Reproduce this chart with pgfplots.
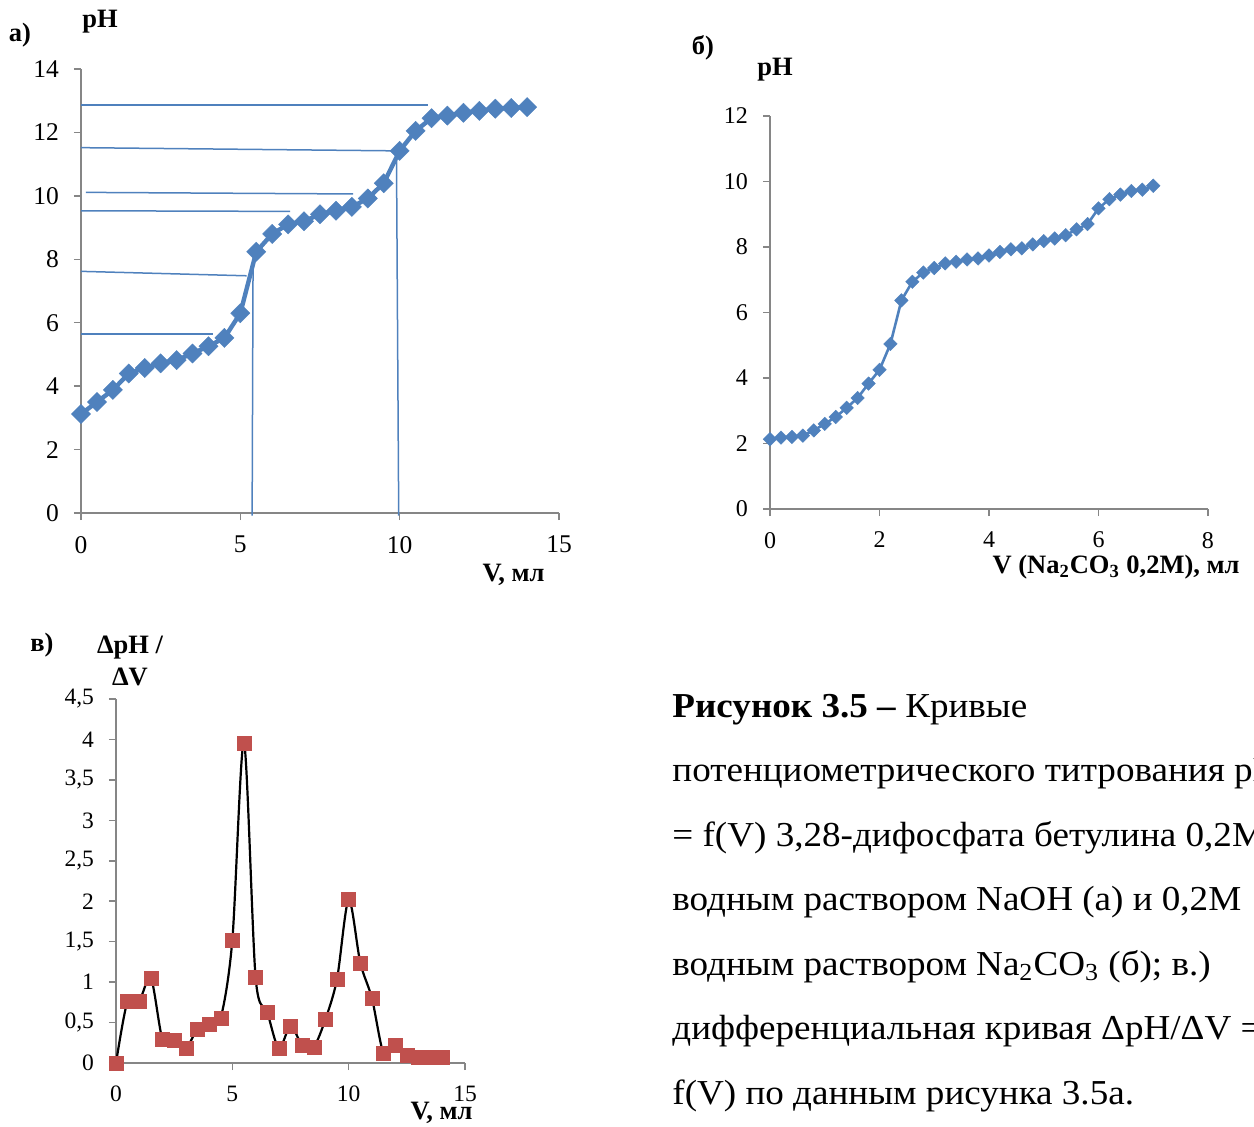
\documentclass[border=0pt]{standalone}
\usepackage{fontspec}
\setmainfont{Liberation Serif}
\usepackage{pgfplots}
\pgfplotsset{compat=1.18}
\definecolor{xblue}{HTML}{4F81BD}
\definecolor{xred}{HTML}{C0504D}
\definecolor{xgray}{HTML}{868686}
\pgfplotsset{
 xlstyle/.style={
  scale only axis, clip=false,
  axis x line*=bottom, axis y line*=left,
  axis line style={xgray, line width=0.75pt, -},
  tick style={xgray, line width=0.75pt},
  tick align=outside, major tick length=3.5pt,
  minor tick num=0,
  /pgf/number format/assume math mode=true,
  anchor=south west,
  yticklabel style={xshift=-4pt},
  xticklabel style={yshift=-4.5pt},
 }
}
\begin{document}
\begin{tikzpicture}
\useasboundingbox (0,0) rectangle (627pt,-563pt);
% ---------- a ----------
\begin{axis}[xlstyle, at={(40.5pt,-256.5pt)}, width=239pt, height=222pt,
  xmin=0, xmax=15, ymin=0, ymax=14, xtick={0,5,10,15}, ytick={0,2,...,14},
  ticklabel style={font=\fontsize{12.75}{14}\selectfont}]
\addplot[xblue, line width=2.2pt, mark=square*, mark size=3.4pt,
  mark options={rotate=45, fill=xblue, draw=xblue, line width=0.2pt}] coordinates {
(0,3.12) (0.5,3.5) (1,3.88) (1.5,4.4) (2,4.57) (2.5,4.72) (3,4.82) (3.5,5.03)
(4,5.26) (4.5,5.52) (5,6.3) (5.5,8.24) (6,8.8) (6.5,9.1) (7,9.2) (7.5,9.42)
(8,9.53) (8.5,9.65) (9,9.92) (9.5,10.4) (10,11.42) (10.5,12.05) (11,12.45)
(11.5,12.53) (12,12.62) (12.5,12.68) (13,12.75) (13.5,12.77) (14,12.8)};
\addplot[xblue, line width=0.75pt] coordinates {(0,12.86) (10.88,12.86)};
\addplot[xblue, line width=0.75pt] coordinates {(0,11.52) (9.81,11.42)};
\addplot[xblue, line width=0.75pt] coordinates {(0.15,10.11) (8.54,10.06)};
\addplot[xblue, line width=0.75pt] coordinates {(0,9.53) (6.56,9.51)};
\addplot[xblue, line width=0.75pt] coordinates {(0,7.62) (5.2,7.48)};
\addplot[xblue, line width=0.75pt] coordinates {(0,5.65) (4.13,5.65)};
\addplot[xblue, line width=0.75pt] coordinates {(5.4,8.0) (5.37,-0.08)};
\addplot[xblue, line width=0.75pt] coordinates {(9.9,11.3) (9.97,-0.08)};
\end{axis}
% ---------- b ----------
\begin{axis}[xlstyle, at={(385pt,-254.5pt)}, width=219pt, height=196.5pt,
  xmin=0, xmax=8, ymin=0, ymax=12, xtick={0,2,...,8}, ytick={0,2,...,12},
  ticklabel style={font=\fontsize{12}{14}\selectfont}]
\addplot[xblue, line width=1.3pt, mark=square*, mark size=2.4pt,
  mark options={rotate=45, fill=xblue, draw=xblue, line width=0.2pt}] coordinates {
(0,2.13) (0.2,2.18) (0.4,2.2) (0.6,2.24) (0.8,2.4) (1.0,2.6) (1.2,2.81)
(1.4,3.09) (1.6,3.39) (1.8,3.83) (2.0,4.25) (2.2,5.04) (2.4,6.37) (2.6,6.94)
(2.8,7.22) (3.0,7.36) (3.2,7.5) (3.4,7.55) (3.6,7.62) (3.8,7.65) (4.0,7.74)
(4.2,7.85) (4.4,7.93) (4.6,7.96) (4.8,8.08) (5.0,8.18) (5.2,8.26) (5.4,8.36)
(5.6,8.54) (5.8,8.7) (6.0,9.18) (6.2,9.46) (6.4,9.6) (6.6,9.71) (6.8,9.75) (7.0,9.87)};
\end{axis}
% ---------- v ----------
\begin{axis}[xlstyle, at={(58pt,-531.5pt)}, width=174.5pt, height=182pt,
  xmin=0, xmax=15, ymin=0, ymax=4.5, xtick={0,5,10,15},
  ytick={0,0.5,1,1.5,2,2.5,3,3.5,4,4.5},
  yticklabel style={/pgf/number format/.cd, use comma, fixed},
  ticklabel style={font=\fontsize{11.75}{13}\selectfont}]
\addplot[black, line width=1.1pt, smooth, mark=square*, mark size=3.5pt,
  mark options={fill=xred, draw=xred, line width=0.2pt}] coordinates {
(0,0) (0.5,0.77) (1,0.77) (1.5,1.05) (2,0.29) (2.5,0.28) (3,0.18) (3.5,0.42)
(4,0.48) (4.5,0.56) (5,1.52) (5.5,3.96) (6,1.06) (6.5,0.63) (7,0.18) (7.5,0.46)
(8,0.22) (8.5,0.2) (9,0.54) (9.5,1.04) (10,2.02) (10.5,1.24) (11,0.8)
(11.5,0.12) (12,0.22) (12.5,0.1) (13,0.07) (13.5,0.07) (14,0.07)};
\end{axis}
% ---------- labels ----------
\begin{scope}[every node/.style={font=\bfseries\fontsize{13.25}{15}\selectfont, inner sep=0pt}]
\node at (10pt,-17.5pt) {а)};
\node at (50pt,-11pt) {pH};
\node[anchor=east] at (272.5pt,-287.5pt) {V, мл};
\node at (351.5pt,-24pt) {б)};
\node at (387.5pt,-35pt) {pH};
\node[anchor=east] at (620pt,-283.5pt) {V (Na\textsubscript{2}CO\textsubscript{3} 0,2M), мл};
\node at (21pt,-322.5pt) {в)};
\node at (65pt,-324pt) {ΔpH /};
\node at (65pt,-338.5pt) {ΔV};
\node[anchor=east] at (236.5pt,-556.5pt) {V, мл};
\end{scope}
% ---------- caption ----------
\begin{scope}[every node/.style={font=\fontsize{17.5}{20}\selectfont, inner sep=0pt, anchor=base west, xscale=1.06}]
\node at (336pt,-358.5pt) {\textbf{Рисунок 3.5 –} Кривые};
\node at (336pt,-390.75pt) {потенциометрического титрования рН};
\node at (336pt,-423pt) {= f(V) 3,28-дифосфата бетулина 0,2М};
\node at (336pt,-455.25pt) {водным раствором NaOH (а) и 0,2М};
\node at (336pt,-487.5pt) {водным раствором Na\textsubscript{2}CO\textsubscript{3} (б); в.)};
\node at (336pt,-519.75pt) {дифференциальная кривая ΔpH/ΔV =};
\node at (336pt,-552pt) {f(V) по данным рисунка 3.5а.};
\end{scope}
\end{tikzpicture}
\end{document}
